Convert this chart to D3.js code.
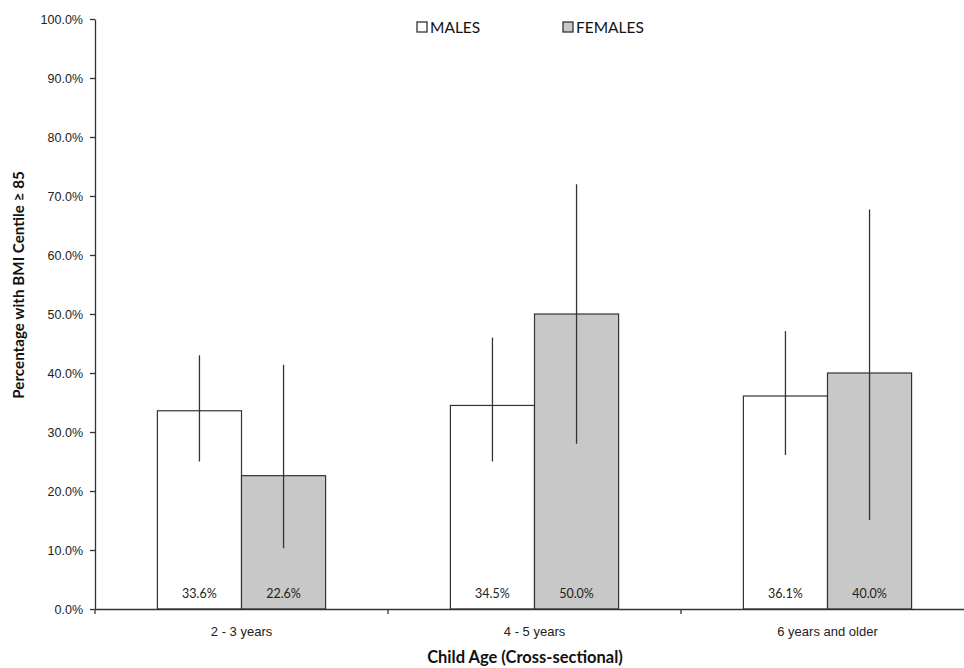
<!DOCTYPE html>
<html>
<head>
<meta charset="utf-8">
<script src="https://cdn.jsdelivr.net/npm/d3@7"></script>
<style>
	body { margin: 0; background: #fff; }
	svg { display: block; font-family: Lato, 'Open Sans', sans-serif; }
	.axis path, .axis line { stroke: #333; stroke-width: 1.3; }
	.axis text { fill: #222; font-size: 12.5px; }
</style>
</head>
<body>
<div id="chart"></div>
<script>
// chart values
const categories = ['2 - 3 years', '4 - 5 years', '6 years and older'];
const seriesNames = ['MALES', 'FEMALES'];
const males = [33.6, 34.5, 36.1];
const females = [22.6, 50.0, 40.0];
const malesLow = [25.0, 25.0, 26.1];
const malesHigh = [43.0, 46.0, 47.1];
const femalesLow = [10.3, 28.0, 15.1];
const femalesHigh = [41.4, 72.0, 67.7];
const yTicks = [0, 10, 20, 30, 40, 50, 60, 70, 80, 90, 100];

const W = 964;
const H = 668;
const margin = { top: 19, right: -10, bottom: 59, left: 95 };
const width = W - margin.left - margin.right;
const height = H - margin.top - margin.bottom;

const fills = ['#ffffff', '#c8c8c8'];

const svg = d3.select('#chart').append('svg')
	.attr('width', W)
	.attr('height', H);

const g = svg.append('g')
	.attr('transform', `translate(${margin.left},${margin.top})`);

const x = d3.scaleBand().domain(categories).range([0, width]);
const xInner = d3.scaleBand().domain(seriesNames)
	.range([x.bandwidth() * 0.213, x.bandwidth() * 0.787]);
const y = d3.scaleLinear().domain([0, 100]).range([height, 0]);

// build rows from the arrays
const rows = [];
categories.forEach((c, i) => {
	rows.push({ cat: c, s: 'MALES', v: males[i], lo: malesLow[i], hi: malesHigh[i] });
	rows.push({ cat: c, s: 'FEMALES', v: females[i], lo: femalesLow[i], hi: femalesHigh[i] });
});

// bars
g.append('g').selectAll('rect')
	.data(rows)
	.join('rect')
	.attr('x', d => x(d.cat) + xInner(d.s))
	.attr('y', d => y(d.v))
	.attr('width', xInner.bandwidth())
	.attr('height', d => y(0) - y(d.v))
	.attr('fill', d => fills[seriesNames.indexOf(d.s)])
	.attr('stroke', '#333')
	.attr('stroke-width', 1.2);

// error bars
g.append('g').selectAll('line')
	.data(rows)
	.join('line')
	.attr('x1', d => x(d.cat) + xInner(d.s) + xInner.bandwidth() / 2)
	.attr('x2', d => x(d.cat) + xInner(d.s) + xInner.bandwidth() / 2)
	.attr('y1', d => y(d.lo))
	.attr('y2', d => y(d.hi))
	.attr('stroke', '#333')
	.attr('stroke-width', 1.3);

// value labels
g.append('g').selectAll('text')
	.data(rows)
	.join('text')
	.attr('x', d => x(d.cat) + xInner(d.s) + xInner.bandwidth() / 2)
	.attr('y', height - 11)
	.attr('text-anchor', 'middle')
	.style('font-size', '12.5px')
	.attr('fill', '#222')
	.text(d => `${d.v.toFixed(1)}%`);

// axes
g.append('g').attr('class', 'axis')
	.call(d3.axisLeft(y).tickValues(yTicks).tickSize(5).tickSizeOuter(0)
		.tickFormat(d => `${d.toFixed(1)}%`))
	.call(a => a.selectAll('text').attr('x', -12));

const xAxis = g.append('g').attr('class', 'axis')
	.attr('transform', `translate(0,${height})`)
	.call(d3.axisBottom(x).tickSize(0).tickSizeOuter(0));
xAxis.selectAll('text').attr('dy', '1.85em').style('font-size', '13px');
xAxis.selectAll('.divider')
	.data(d3.range(categories.length + 1))
	.join('line')
	.attr('class', 'divider')
	.attr('x1', i => i * x.step())
	.attr('x2', i => i * x.step())
	.attr('y1', 0)
	.attr('y2', 5);

// axis titles
svg.append('text')
	.attr('x', 525)
	.attr('y', 663)
	.attr('text-anchor', 'middle')
	.style('font-size', '16.5px')
	.style('font-weight', 'bold')
	.attr('fill', '#111')
	.text('Child Age (Cross-sectional)');

svg.append('text')
	.attr('transform', 'translate(24,285) rotate(-90)')
	.attr('text-anchor', 'middle')
	.style('font-size', '15.2px')
	.style('font-weight', 'bold')
	.attr('fill', '#111')
	.text('Percentage with BMI Centile ≥ 85');

// legend
const legend = svg.append('g').attr('transform', 'translate(417,22)');
const legendX = [0, 146];
seriesNames.forEach((s, i) => {
	const item = legend.append('g').attr('transform', `translate(${legendX[i]},0)`);
	item.append('rect')
		.attr('width', 10).attr('height', 10)
		.attr('fill', fills[i])
		.attr('stroke', '#333')
		.attr('stroke-width', 1.3);
	item.append('text')
		.attr('x', 13)
		.attr('y', 11)
		.style('font-size', '15.5px')
		.attr('fill', '#111')
		.text(s);
});
</script>
</body>
</html>
